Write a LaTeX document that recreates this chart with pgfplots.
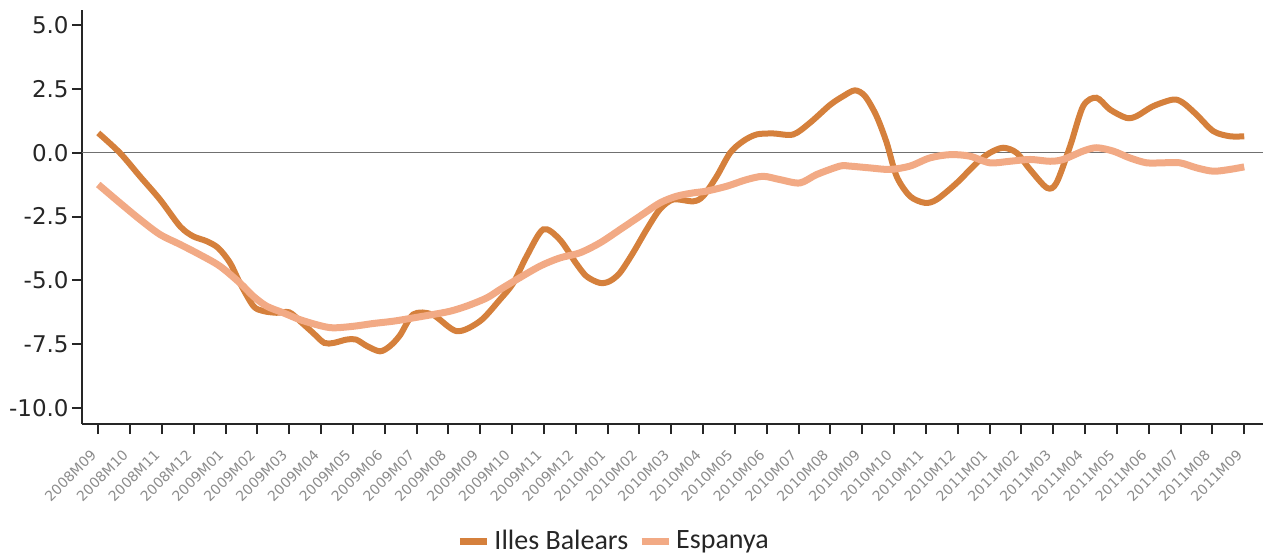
\documentclass[border=0pt]{standalone}
\usepackage{fontspec}
\setmainfont{DejaVu Sans}
\newfontfamily\legendfont{Carlito}
\usepackage{pgfplots}
\pgfplotsset{compat=1.18}
\definecolor{ibal}{HTML}{D5803C}
\definecolor{esp}{HTML}{F2AA85}
\definecolor{zline}{HTML}{707070}
\begin{document}
\begin{tikzpicture}
\begin{axis}[
  scale only axis,
  width=590.5pt, height=207pt,
  xmin=-0.51, xmax=36.59,
  ymin=-10.63, ymax=5.6,
  axis x line*=bottom, axis y line*=left,
  axis line style={-, line width=1pt, color=black!85},
  tick align=outside,
  major tick length=5pt,
  tick style={line width=1pt, color=black!85},
  xtick={0,...,36},
  xticklabels={2008M09,2008M10,2008M11,2008M12,2009M01,2009M02,2009M03,2009M04,2009M05,2009M06,2009M07,2009M08,2009M09,2009M10,2009M11,2009M12,2010M01,2010M02,2010M03,2010M04,2010M05,2010M06,2010M07,2010M08,2010M09,2010M10,2010M11,2010M12,2011M01,2011M02,2011M03,2011M04,2011M05,2011M06,2011M07,2011M08,2011M09},
  xticklabel style={rotate=45, anchor=north east, font=\fontsize{7pt}{7pt}\selectfont, text=black!45, inner xsep=8pt, inner ysep=2pt},
  ytick={-10,-7.5,-5,-2.5,0,2.5,5},
  yticklabels={-10.0,-7.5,-5.0,-2.5,0.0,2.5,5.0},
  yticklabel style={font=\fontsize{11.5pt}{12pt}\selectfont, text=black!85, inner sep=1.5pt},
  legend style={at={(0.451,-0.283)}, anchor=center, draw=none, fill=none,
    font=\legendfont\fontsize{14pt}{15pt}\selectfont, text=black!85,
    legend columns=2, inner sep=0pt,
    /tikz/every even column/.append style={column sep=3pt}},
  legend image code/.code={\draw[#1, line width=3.5pt] (0pt,0pt) -- (13.5pt,0pt);},
  clip=false,
]
\addplot[zline, line width=0.6pt, forget plot] coordinates {(-0.51,0) (36.59,0)};
\addplot[ibal, line width=3pt, smooth, tension=0.5] coordinates {
(0,0.78) (0.68,0.0) (1.31,-0.92) (1.94,-1.83) (2.57,-2.88) (2.98,-3.27)
(3.4,-3.46) (3.77,-3.73) (4.14,-4.31) (4.45,-5.1) (4.87,-6.0) (5.18,-6.2)
(5.6,-6.27) (6.0,-6.25) (6.34,-6.6) (6.75,-7.06) (7.1,-7.45) (7.4,-7.45)
(7.8,-7.32) (8.1,-7.32) (8.45,-7.58) (8.85,-7.78) (9.16,-7.58) (9.48,-7.15)
(9.9,-6.33) (10.5,-6.34) (11.26,-6.99) (11.99,-6.6) (12.62,-5.75) (13.04,-5.1)
(13.46,-4.05) (13.98,-3.0) (14.5,-3.4) (15.0,-4.31) (15.34,-4.84) (15.76,-5.1)
(16.07,-5.03) (16.39,-4.7) (16.8,-3.92) (17.23,-3.0) (17.64,-2.22) (18.06,-1.83)
(18.69,-1.9) (19.0,-1.7) (19.43,-0.92) (19.85,0.0) (20.26,0.46) (20.68,0.72)
(21.2,0.76) (21.83,0.72) (22.36,1.18) (22.99,1.88) (23.4,2.22) (23.77,2.45)
(24.09,2.22) (24.45,1.44) (24.77,0.39) (25.08,-0.92) (25.5,-1.7) (25.97,-1.96)
(26.34,-1.83) (26.97,-1.18) (27.6,-0.39) (28.01,0.0) (28.43,0.2) (28.85,0.0)
(29.27,-0.65) (29.8,-1.37) (30.1,-1.18) (30.53,0.26) (30.94,1.83) (31.36,2.16)
(31.78,1.7) (32.3,1.37) (32.62,1.44) (33.14,1.83) (33.77,2.09) (34.08,1.96)
(34.5,1.5) (35.03,0.85) (35.55,0.65) (36,0.65)
};
\addlegendentry{Illes Balears}
\addplot[esp, line width=3.5pt, smooth, tension=0.5] coordinates {
(0,-1.24) (0.68,-1.96) (1.31,-2.61) (1.94,-3.2) (2.57,-3.59) (3.19,-3.99)
(3.82,-4.44) (4.45,-5.1) (4.87,-5.62) (5.29,-6.01) (5.81,-6.27) (6.34,-6.54)
(6.96,-6.77) (7.38,-6.86) (8.01,-6.8) (8.64,-6.69) (9.27,-6.6) (9.9,-6.47)
(10.5,-6.34) (11.05,-6.21) (11.57,-6.01) (12.2,-5.69) (12.62,-5.36) (13.14,-4.97)
(13.88,-4.44) (14.5,-4.12) (15.13,-3.92) (15.76,-3.53) (16.39,-3.01) (17.02,-2.48)
(17.65,-1.96) (18.17,-1.7) (18.69,-1.57) (19.11,-1.5) (19.74,-1.31) (20.37,-1.05)
(20.89,-0.92) (21.42,-1.05) (22.04,-1.18) (22.57,-0.85) (23.3,-0.52) (23.61,-0.52)
(24.24,-0.59) (24.87,-0.65) (25.5,-0.52) (26.12,-0.2) (26.76,-0.07) (27.38,-0.13)
(28.01,-0.39) (28.64,-0.33) (29.27,-0.26) (29.9,-0.33) (30.31,-0.26) (30.94,0.07)
(31.36,0.2) (31.88,0.07) (32.41,-0.2) (32.93,-0.39) (33.46,-0.39) (33.98,-0.39)
(34.51,-0.59) (35.03,-0.72) (35.55,-0.65) (36,-0.55)
};
\addlegendentry{Espanya}
\end{axis}
\pgfresetboundingbox
\path ([xshift=-41pt,yshift=-67pt]current axis.south west) rectangle ([xshift=1.5pt,yshift=5pt]current axis.north east);
\end{tikzpicture}
\end{document}
